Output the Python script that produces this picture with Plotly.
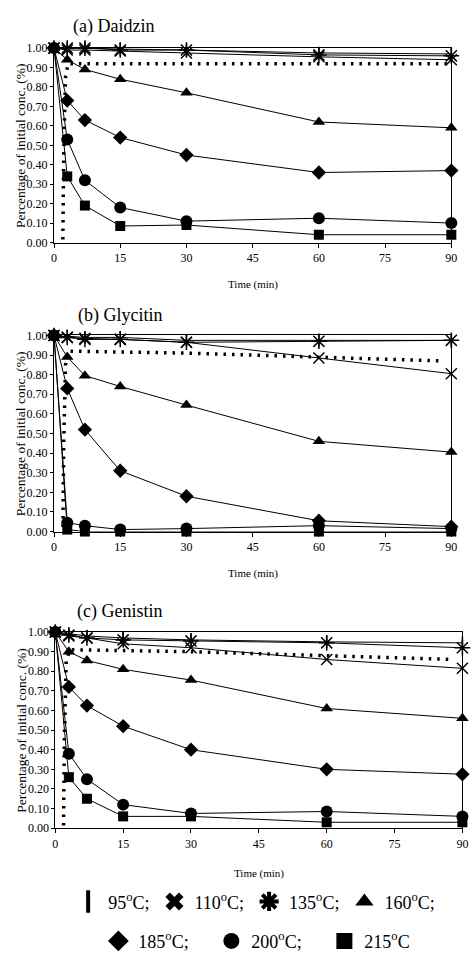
import plotly.graph_objects as go

W, H = 474, 961

time_min = [0, 3, 7, 15, 30, 60, 90]
x_ticks = [0, 15, 30, 45, 60, 75, 90]
y_ticks = [0.0, 0.1, 0.2, 0.3, 0.4, 0.5, 0.6, 0.7, 0.8, 0.9, 1.0]

temps = ["95", "110", "135", "160", "185", "200", "215"]

# (a) Daidzin
daidzin_95 = [1.00, 1.00, 1.00, 0.995, 0.99, 0.975, 0.97]
daidzin_110 = [1.00, 0.99, 0.99, 0.985, 0.975, 0.955, 0.94]
daidzin_135 = [1.00, 1.00, 1.00, 0.99, 0.99, 0.965, 0.96]
daidzin_160 = [1.00, 0.94, 0.89, 0.84, 0.77, 0.62, 0.59]
daidzin_185 = [1.00, 0.73, 0.63, 0.54, 0.45, 0.36, 0.37]
daidzin_200 = [1.00, 0.53, 0.32, 0.18, 0.11, 0.125, 0.10]
daidzin_215 = [1.00, 0.34, 0.19, 0.085, 0.09, 0.04, 0.04]
daidzin_dot_x = [2.0, 2.2, 2.6, 3.2, 90]
daidzin_dot_y = [0.015, 0.45, 0.85, 0.92, 0.92]

# (b) Glycitin
glycitin_95 = [1.00, 0.995, 0.99, 0.99, 0.975, 0.975, 0.975]
glycitin_110 = [1.00, 0.99, 0.985, 0.98, 0.965, 0.885, 0.805]
glycitin_135 = [1.00, 0.99, 0.98, 0.98, 0.965, 0.97, 0.975]
glycitin_160 = [1.00, 0.89, 0.795, 0.74, 0.645, 0.46, 0.405]
glycitin_185 = [1.00, 0.73, 0.52, 0.31, 0.18, 0.055, 0.025]
glycitin_200 = [1.00, 0.045, 0.03, 0.01, 0.015, 0.03, 0.015]
glycitin_215 = [1.00, 0.01, 0.0, 0.0, 0.0, 0.0, 0.0]
glycitin_dot_x = [2.0, 2.2, 2.6, 3.2, 30, 60, 88]
glycitin_dot_y = [-0.02, 0.45, 0.85, 0.92, 0.91, 0.89, 0.87]

# (c) Genistin
genistin_95 = [1.00, 0.99, 0.98, 0.97, 0.96, 0.95, 0.945]
genistin_110 = [1.00, 0.98, 0.97, 0.94, 0.92, 0.86, 0.815]
genistin_135 = [1.00, 0.985, 0.97, 0.96, 0.955, 0.945, 0.92]
genistin_160 = [1.00, 0.90, 0.855, 0.81, 0.755, 0.61, 0.56]
genistin_185 = [1.00, 0.72, 0.625, 0.52, 0.40, 0.30, 0.275]
genistin_200 = [1.00, 0.38, 0.25, 0.12, 0.075, 0.085, 0.06]
genistin_215 = [1.00, 0.26, 0.15, 0.06, 0.06, 0.03, 0.03]
genistin_dot_x = [1.8, 2.0, 2.4, 3.2, 30, 60, 88]
genistin_dot_y = [-0.03, 0.45, 0.85, 0.91, 0.90, 0.88, 0.86]

panel_titles = ["(a) Daidzin", "(b) Glycitin", "(c) Genistin"]
y_title = "Percentage of initial conc. (%)"
x_title = "Time (min)"

panels = [
    [daidzin_95, daidzin_110, daidzin_135, daidzin_160, daidzin_185, daidzin_200, daidzin_215],
    [glycitin_95, glycitin_110, glycitin_135, glycitin_160, glycitin_185, glycitin_200, glycitin_215],
    [genistin_95, genistin_110, genistin_135, genistin_160, genistin_185, genistin_200, genistin_215],
]
dots = [(daidzin_dot_x, daidzin_dot_y), (glycitin_dot_x, glycitin_dot_y), (genistin_dot_x, genistin_dot_y)]

# styles
plot_symbols = ["line-ns-open", "x-thin-open", "asterisk-open", "triangle-up", "diamond", "circle", "square"]
plot_sizes = [9, 11, 13, 11, 11, 12, 10]
legend_symbols = ["line-ns-open", "x", "asterisk-open", "triangle-up", "diamond", "circle", "square"]

SERIF = "Liberation Serif"

# pixel geometry of the three plot areas (left, right, top, bottom)
boxes = [(52, 457, 41.7, 239.0), (52, 457, 333.3, 532.3), (53.3, 468.3, 634.3, 833.3)]
title_pos = [(69, 20), (74, 313), (73, 613)]
xtitle_y = [282, 575, 879]

fig = go.Figure()

for p in range(3):
    xa = "x" if p == 0 else f"x{p+1}"
    ya = "y" if p == 0 else f"y{p+1}"
    # dotted reference curve
    fig.add_trace(go.Scatter(
        x=dots[p][0], y=dots[p][1], mode="lines", xaxis=xa, yaxis=ya,
        line=dict(color="black", width=3.5, dash="2.5px,6px"),
        showlegend=False, cliponaxis=False, hoverinfo="skip"))
    for i, t in enumerate(temps):
        sym = plot_symbols[i]
        open_sym = sym.endswith("open")
        fig.add_trace(go.Scatter(
            x=time_min, y=panels[p][i], mode="lines+markers", xaxis=xa, yaxis=ya,
            name=f"{t}°C", showlegend=False, cliponaxis=False,
            line=dict(color="black", width=1),
            marker=dict(symbol=sym, size=plot_sizes[i], color="black",
                        line=dict(color="black", width=1.5 if open_sym else 0))))

# legend-only entries (two rows)
for i, t in enumerate(temps):
    sym = legend_symbols[i]
    open_sym = sym.endswith("open")
    fig.add_trace(go.Scatter(
        x=[None], y=[None], mode="markers", name=f"{t}<sup>o</sup>C;" if i < 6 else f"{t}<sup>o</sup>C",
        legend="legend" if i < 4 else "legend2",
        marker=dict(symbol=sym, size=16, color="black",
                    line=dict(color="black", width=4 if open_sym else 0))))

layout_axes = {}
for p in range(3):
    l, r, t, b = boxes[p]
    xkey = "xaxis" if p == 0 else f"xaxis{p+1}"
    ykey = "yaxis" if p == 0 else f"yaxis{p+1}"
    ya = "y" if p == 0 else f"y{p+1}"
    xa = "x" if p == 0 else f"x{p+1}"
    layout_axes[xkey] = dict(
        domain=[l / W, r / W], anchor=ya, range=[0, 90], tickvals=x_ticks,
        showline=True, mirror=True, linecolor="black", linewidth=1,
        ticks="outside", ticklen=4, tickcolor="black", showgrid=False, zeroline=False,
        tickfont=dict(family=SERIF, size=12, color="black"))
    layout_axes[ykey] = dict(
        domain=[1 - b / H, 1 - t / H], anchor=xa, range=[0, 1], tickvals=y_ticks,
        tickformat=".2f", showline=True, mirror=True, linecolor="black", linewidth=1,
        ticks="outside", ticklen=3, tickcolor="black", showgrid=False, zeroline=False,
        tickfont=dict(family=SERIF, size=12, color="black"))

annotations = []
for p in range(3):
    l, r, t, b = boxes[p]
    tx, ty = title_pos[p]
    annotations.append(dict(text=panel_titles[p], x=tx / W, y=1 - ty / H, xref="paper", yref="paper",
                            xanchor="left", yanchor="middle", showarrow=False,
                            font=dict(family=SERIF, size=18, color="black")))
    annotations.append(dict(text=y_title, x=18 / W, y=1 - ((t + b) / 2) / H, xref="paper", yref="paper",
                            xanchor="center", yanchor="middle", textangle=-90, showarrow=False,
                            font=dict(family=SERIF, size=13.5, color="black")))
    annotations.append(dict(text=x_title, x=((l + r) / 2) / W, y=1 - xtitle_y[p] / H, xref="paper", yref="paper",
                            xanchor="center", yanchor="middle", showarrow=False,
                            font=dict(family=SERIF, size=11, color="black")))

fig.update_layout(
    width=W, height=H, autosize=False,
    margin=dict(l=0, r=0, t=0, b=0),
    paper_bgcolor="white", plot_bgcolor="white",
    annotations=annotations,
    legend=dict(orientation="h", x=256 / W, y=1 - 908 / H, xanchor="center", yanchor="middle",
                font=dict(family=SERIF, size=18, color="black"), itemsizing="trace",
                bgcolor="rgba(0,0,0,0)", traceorder="normal"),
    legend2=dict(orientation="h", x=270 / W, y=1 - 948 / H, xanchor="center", yanchor="middle",
                 font=dict(family=SERIF, size=18, color="black"), itemsizing="trace",
                 bgcolor="rgba(0,0,0,0)", traceorder="normal", entrywidth=68),
    **layout_axes,
)

fig.write_html("out.html")
